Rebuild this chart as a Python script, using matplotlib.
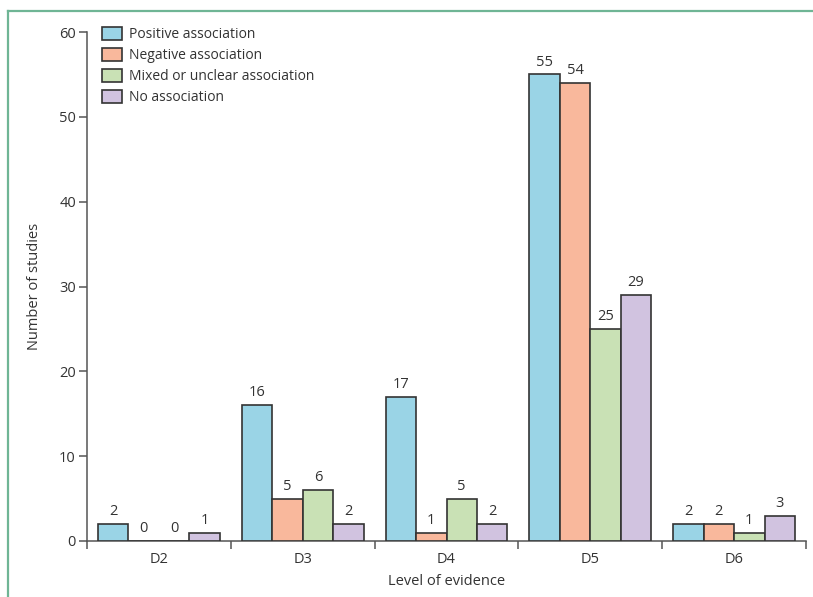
import numpy as np
import matplotlib
matplotlib.use("Agg")
import matplotlib.pyplot as plt
from matplotlib.lines import Line2D

plt.rcParams["font.family"] = ["Open Sans", "DejaVu Sans"]

levels = ["D2", "D3", "D4", "D5", "D6"]
series_names = ["Positive association", "Negative association",
                "Mixed or unclear association", "No association"]
positive = [2, 16, 17, 55, 2]
negative = [0, 5, 1, 54, 2]
mixed = [0, 6, 5, 25, 1]
no_assoc = [1, 2, 2, 29, 3]
colours = ["#9ad4e6", "#f9b89c", "#c9e1b5", "#d1c3e0"]

AX_COL = "#555555"
EDGE = "#333333"

fig = plt.figure(figsize=(8.13, 5.97), dpi=100)
ax = fig.add_axes([87 / 813, 56 / 597, 719 / 813, 509 / 597])

x = np.arange(len(levels))
w = 0.212
for i, (vals, name, col) in enumerate(zip([positive, negative, mixed, no_assoc],
                                          series_names, colours)):
    pos = x + (i - 1.5) * w
    ax.bar(pos, vals, width=w, color=col, edgecolor=EDGE, linewidth=1.2,
           label=name, zorder=3)
    for p, v in zip(pos, vals):
        ax.annotate(str(v), (p, v), xytext=(0, 3.5), textcoords="offset points",
                    ha="center", va="bottom", fontsize=10.5, color="#333333")

ax.set_xlim(-0.5, len(levels) - 0.5)
ax.set_ylim(0, 60)
ax.set_yticks(range(0, 61, 10))
ax.set_xticks(x)
ax.set_xticklabels(levels)
ax.set_xticks(np.arange(-0.5, len(levels)), minor=True)
ax.tick_params(axis="x", which="major", length=0, pad=8, labelsize=10.5,
               labelcolor="#333333")
ax.tick_params(axis="x", which="minor", length=6, width=1.1, color=AX_COL,
               direction="out")
ax.tick_params(axis="y", length=6, width=1.1, color=AX_COL, labelsize=10.5,
               labelcolor="#333333", pad=2)

for s in ["top", "right"]:
    ax.spines[s].set_visible(False)
for s in ["left", "bottom"]:
    ax.spines[s].set_color(AX_COL)
    ax.spines[s].set_linewidth(1.1)

ax.set_xlabel("Level of evidence", fontsize=10.5, color="#333333", labelpad=5)
ax.set_ylabel("Number of studies", fontsize=10.5, color="#333333", labelpad=12)

ax.legend(loc="upper left", bbox_to_anchor=(0.003, 1.034), frameon=False,
          fontsize=10, handlelength=1.5, handleheight=1.0, handletextpad=0.5,
          labelspacing=0.43, borderaxespad=0.5, labelcolor="#333333")

# teal frame at top and left
fig.add_artist(Line2D([8 / 813, 1.0], [1 - 10.5 / 597, 1 - 10.5 / 597],
                      transform=fig.transFigure, color="#6fb595", linewidth=1.6))
fig.add_artist(Line2D([8 / 813, 8 / 813], [0.0, 1 - 10.5 / 597],
                      transform=fig.transFigure, color="#6fb595", linewidth=1.6))

fig.savefig("out.png", dpi=100)
